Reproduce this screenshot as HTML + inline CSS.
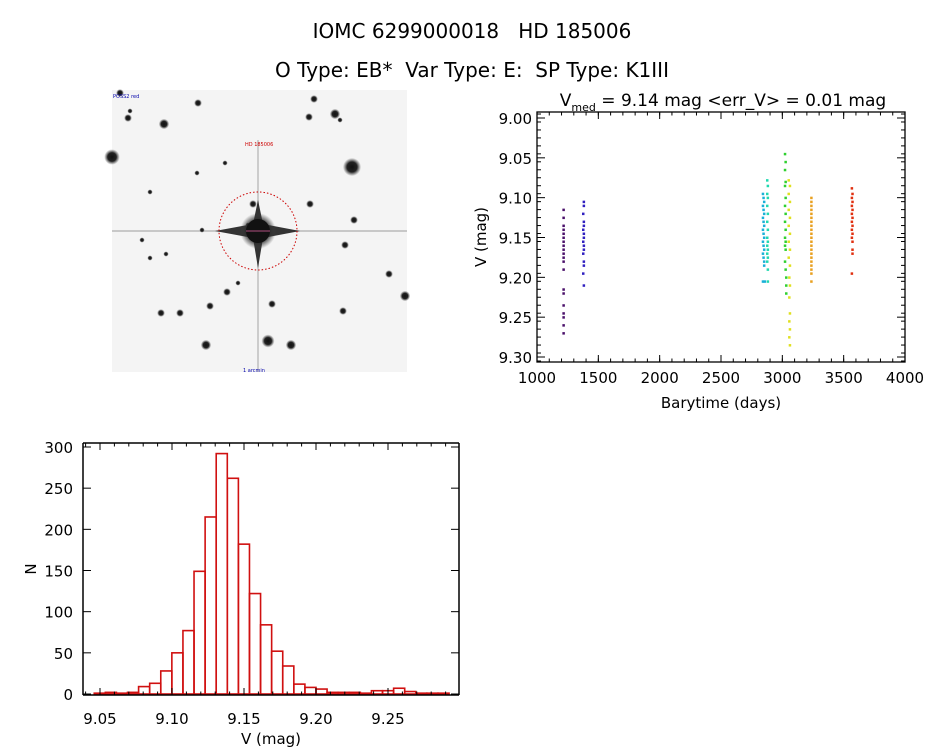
<!DOCTYPE html>
<html><head><meta charset="utf-8"><style>
html,body{margin:0;padding:0;background:#fff;width:944px;height:747px;overflow:hidden}
svg{display:block;font-family:"DejaVu Sans","Liberation Sans",sans-serif}
text{white-space:pre}
</style></head><body>
<svg id="root" width="944" height="747" viewBox="0 0 944 747">
<defs>
<radialGradient id="sg"><stop offset="0" stop-color="#111"/><stop offset="0.55" stop-color="#222"/><stop offset="1" stop-color="#444" stop-opacity="0"/></radialGradient>
</defs>
<text x="472" y="38" font-size="20" text-anchor="middle" xml:space="preserve">IOMC 6299000018   HD 185006</text>
<text x="472" y="77" font-size="20" text-anchor="middle" xml:space="preserve">O Type: EB*  Var Type: E:  SP Type: K1III</text>
<g id="img"></g>
<text x="723" y="106" font-size="17" text-anchor="middle" xml:space="preserve">V<tspan font-size="11" dy="5">med</tspan><tspan dy="-5"> = 9.14 mag &lt;err_V&gt; = 0.01 mag</tspan></text>
<g id="sc"></g>
<g id="hist"></g>
</svg>
<script>
const NS="http://www.w3.org/2000/svg";
function mk(p,tag,a){const e=document.createElementNS(NS,tag);for(const k in a)e.setAttribute(k,a[k]);p.appendChild(e);return e;}

// ---------- star field image ----------
const g0=document.getElementById('img');
mk(g0,'rect',{x:112,y:90,width:295,height:282,fill:'#f4f4f4'});
const starX=[112,128,164,198,309,335,352,268,206,291,227,161,272,345,210,180,150,142,238,343,166,202,248,354,389,405,310,253,340,314,120,130,150,197,225];
const starY=[157,118,124,103,117,114,167,341,345,345,292,313,304,245,306,313,258,240,283,311,254,230,225,220,274,296,204,204,120,99,93,111,192,173,163];
const starR=[6,3,4,3,3,4,7,5,4,4,3,3,3,3,3,3,2,2,2,3,2,2,2,3,3,4,3,3,2,3,3,2,2,2,2];
mk(g0,'rect',{x:112,y:230,width:295,height:2,fill:'#c8c8c8'});
mk(g0,'rect',{x:257,y:140,width:2,height:232,fill:'#cccccc'});
for(let i=0;i<starX.length;i++){
 const c=mk(g0,'circle',{cx:starX[i],cy:starY[i],r:starR[i]*1.3,fill:'url(#sg)'});
 
 
}
mk(g0,'path',{d:'M258 200 L263 224 L300 231 L263 238 L258 268 L253 238 L215 231 L253 224 Z',fill:'#333'});
mk(g0,'circle',{cx:258,cy:231,r:18,fill:'url(#sg)'});
mk(g0,'circle',{cx:258,cy:231,r:12,fill:'#111'});
mk(g0,'circle',{cx:258,cy:231,r:39,fill:'none',stroke:'#c00','stroke-width':1,'stroke-dasharray':'1.5 2'});
mk(g0,'line',{x1:246,x2:270,y1:231,y2:231,stroke:'#b05080','stroke-width':1});
mk(g0,'text',{x:113,y:98,'font-size':5,fill:'#00a'}).textContent='POSS2 red';
mk(g0,'text',{x:245,y:146,'font-size':5,fill:'#c00'}).textContent='HD 185006';
mk(g0,'text',{x:243,y:372,'font-size':5,fill:'#00a'}).textContent='1 arcmin';

// ---------- light curve ----------
const xTicks=[1000,1500,2000,2500,3000,3500,4000];
const yTicks=[9.00,9.05,9.10,9.15,9.20,9.25,9.30];
const seriesColors=['#4a106a','#3020c0','#1ab0d8','#20d8b0','#30d030','#e0e020','#e8a020','#e03010'];
const tPurple=[1215,1215,1215,1215,1215,1215,1215,1215,1215,1215,1215,1215,1215,1215,1215,1215,1215,1215,1215,1215];
const vPurple=[9.115,9.125,9.135,9.14,9.145,9.15,9.155,9.16,9.165,9.17,9.175,9.18,9.19,9.215,9.22,9.235,9.245,9.25,9.26,9.27];
const tBlue=[1380,1380,1375,1380,1380,1375,1380,1380,1375,1380,1380,1375,1380,1380,1375,1380];
const vBlue=[9.105,9.11,9.12,9.13,9.135,9.14,9.145,9.15,9.155,9.16,9.165,9.17,9.18,9.185,9.195,9.21];
const tCyan=[2840,2845,2850,2840,2845,2850,2840,2845,2850,2840,2845,2850,2840,2845,2850,2840,2845,2850,2840,2855,2850];
const vCyan=[9.095,9.1,9.105,9.11,9.115,9.12,9.125,9.13,9.135,9.14,9.145,9.15,9.155,9.16,9.165,9.17,9.175,9.18,9.205,9.205,9.185];
const tTeal=[2875,2880,2875,2880,2875,2880,2875,2880,2875,2880,2875,2880,2875,2880,2875,2880,2880];
const vTeal=[9.078,9.085,9.095,9.1,9.11,9.12,9.13,9.14,9.15,9.155,9.16,9.165,9.17,9.175,9.18,9.19,9.205];
const tGreen=[3020,3025,3020,3025,3020,3025,3020,3025,3020,3025,3020,3025,3020,3025,3020,3025,3030,3030,3030];
const vGreen=[9.045,9.055,9.065,9.08,9.085,9.1,9.11,9.12,9.13,9.14,9.15,9.155,9.16,9.165,9.18,9.19,9.2,9.21,9.22];
const tYellow=[3050,3060,3050,3060,3050,3060,3050,3060,3050,3060,3050,3060,3055,3060,3055,3060,3055,3060,3055,3060];
const vYellow=[9.078,9.085,9.095,9.105,9.115,9.125,9.135,9.145,9.155,9.165,9.175,9.185,9.2,9.21,9.225,9.245,9.255,9.265,9.275,9.285];
const tOrange=[3235,3235,3235,3235,3235,3235,3235,3235,3235,3235,3235,3235,3235,3235,3235,3235,3235,3235,3235,3235,3235];
const vOrange=[9.1,9.105,9.11,9.115,9.12,9.125,9.13,9.135,9.14,9.145,9.15,9.155,9.16,9.165,9.17,9.175,9.18,9.185,9.19,9.195,9.205];
const tRed=[3565,3570,3565,3570,3565,3570,3565,3570,3565,3570,3565,3570,3565,3570,3570,3570,3565];
const vRed=[9.088,9.095,9.1,9.105,9.11,9.115,9.12,9.125,9.13,9.135,9.14,9.145,9.15,9.155,9.165,9.17,9.195];
const scT=[tPurple,tBlue,tCyan,tTeal,tGreen,tYellow,tOrange,tRed];
const scV=[vPurple,vBlue,vCyan,vTeal,vGreen,vYellow,vOrange,vRed];

const sc=document.getElementById('sc');
const SL=537,SR=905,ST=112,SB=362;
const sx=t=>SL+(t-1000)/3000*(SR-SL);
const sy=v=>118+(v-9.00)/0.30*(357-118);
for(let s=0;s<scT.length;s++){
 for(let i=0;i<scT[s].length;i++){
  const r=mk(sc,'rect',{x:sx(scT[s][i])-1,y:sy(scV[s][i])-1,width:2.5,height:2.5,fill:seriesColors[s]});
  
  
 }
}
mk(sc,'rect',{x:SL,y:ST,width:SR-SL,height:SB-ST,fill:'none',stroke:'#000','stroke-width':1.3});
for(let t=1100;t<4000;t+=100){
 mk(sc,'line',{x1:sx(t),x2:sx(t),y1:SB,y2:SB-3.5,stroke:'#000'});
 mk(sc,'line',{x1:sx(t),x2:sx(t),y1:ST,y2:ST+3.5,stroke:'#000'});
}
for(let k=0;k<=31;k++){const v=8.995+k*0.01; const y=sy(v);
 if(y>ST&&y<SB){mk(sc,'line',{x1:SL,x2:SL+4,y1:y,y2:y,stroke:'#000'});mk(sc,'line',{x1:SR,x2:SR-4,y1:y,y2:y,stroke:'#000'});}}
xTicks.forEach(t=>{
 mk(sc,'line',{x1:sx(t),x2:sx(t),y1:SB,y2:SB-7,stroke:'#000'});
 mk(sc,'line',{x1:sx(t),x2:sx(t),y1:ST,y2:ST+7,stroke:'#000'});
 const tx=mk(sc,'text',{x:sx(t),y:SB+21,'font-size':15,'text-anchor':'middle'});tx.textContent=t;
 
 
});
yTicks.forEach(v=>{
 mk(sc,'line',{x1:SL,x2:SL+8,y1:sy(v),y2:sy(v),stroke:'#000'});
 mk(sc,'line',{x1:SR,x2:SR-8,y1:sy(v),y2:sy(v),stroke:'#000'});
 const tx=mk(sc,'text',{x:SL-5,y:sy(v)+6,'font-size':15,'text-anchor':'end'});tx.textContent=v.toFixed(2);
 
 
});
{const t=mk(sc,'text',{x:721,y:408,'font-size':15,'text-anchor':'middle'});t.textContent='Barytime (days)';

const u=mk(sc,'text',{x:0,y:0,'font-size':15,'text-anchor':'middle',transform:'translate(486,237) rotate(-90)'});u.textContent='V (mag)';
}

// ---------- histogram ----------
const binStart=9.046, binWidth=0.0077;
const counts=[1,2,1,2,9,13,28,50,77,149,215,292,262,182,122,84,52,34,12,8,6,2,2,2,1,4,4,7,3,1,1,1];
const hxTicks=[9.05,9.10,9.15,9.20,9.25];
const hyTicks=[0,50,100,150,200,250,300];
const h=document.getElementById('hist');
const HL=83,HR=459,HT=443,HB=695;
const hx=v=>100+(v-9.05)/0.20*(388-100);
const hy=n=>694-n/300*(694-447);
counts.forEach((c,i)=>{
 const x0=hx(binStart+i*binWidth),x1=hx(binStart+(i+1)*binWidth);
 const r=mk(h,'rect',{x:x0,y:hy(c),width:x1-x0,height:hy(0)-hy(c),fill:'none',stroke:'#d01010','stroke-width':1.6});
 
 
});
mk(h,'line',{x1:HL,x2:HL,y1:HT,y2:HB,stroke:'#000','stroke-width':1.5});
mk(h,'line',{x1:HL,x2:HR,y1:HT,y2:HT,stroke:'#000','stroke-width':1.5});
mk(h,'line',{x1:HR,x2:HR,y1:HT,y2:HB,stroke:'#000','stroke-width':1.5});
mk(h,'line',{x1:HL,x2:HR,y1:HB,y2:HB,stroke:'#000','stroke-width':1.5});
for(let k=0;k<30;k++){const x=hx(9.04+k*0.01); if(x>HL&&x<HR){
 mk(h,'line',{x1:x,x2:x,y1:HB,y2:HB-3.5,stroke:'#000'});mk(h,'line',{x1:x,x2:x,y1:HT,y2:HT+3.5,stroke:'#000'});}}
hxTicks.forEach(v=>{
 mk(h,'line',{x1:hx(v),x2:hx(v),y1:HB,y2:HB-7,stroke:'#000'});
 mk(h,'line',{x1:hx(v),x2:hx(v),y1:HT,y2:HT+7,stroke:'#000'});
 const t=mk(h,'text',{x:hx(v),y:HB+29,'font-size':15,'text-anchor':'middle'});t.textContent=v.toFixed(2);
 
 
});
hyTicks.forEach(n=>{
 mk(h,'line',{x1:HL,x2:HL+8,y1:hy(n),y2:hy(n),stroke:'#000'});
 mk(h,'line',{x1:HR,x2:HR-8,y1:hy(n),y2:hy(n),stroke:'#000'});
 const t=mk(h,'text',{x:HL-10,y:hy(n)+6,'font-size':15,'text-anchor':'end'});t.textContent=n;
 
 
});
{const t=mk(h,'text',{x:271,y:744,'font-size':15,'text-anchor':'middle'});t.textContent='V (mag)';

const u=mk(h,'text',{x:0,y:0,'font-size':15,'text-anchor':'middle',transform:'translate(36,569) rotate(-90)'});u.textContent='N';
}
</script>
</body></html>
